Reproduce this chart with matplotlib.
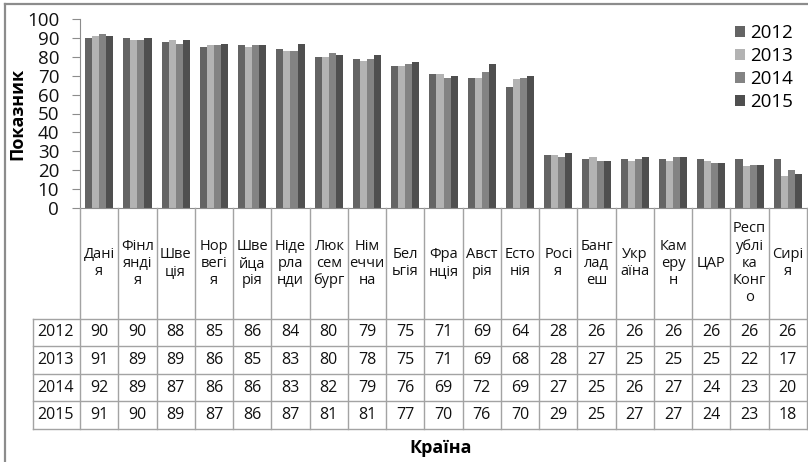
import matplotlib.pyplot as plt
import numpy as np

plt.rcParams['font.family'] = ['Open Sans', 'DejaVu Sans']

# Дані з діаграми
krainy = ["Дані\nя", "Фінл\nянді\nя", "Шве\nція", "Нор\nвегі\nя", "Шве\nйца\nрія",
          "Ніде\nрла\nнди", "Люк\nсем\nбург", "Нім\nеччи\nна", "Бел\nьгія", "Фра\nнція",
          "Авст\nрія", "Есто\nнія", "Росі\nя", "Банг\nлад\nеш", "Укр\nаїна",
          "Кам\nеру\nн", "ЦАР", "Респ\nублі\nка\nКонг\nо", "Сирі\nя"]
roky = ["2012", "2013", "2014", "2015"]
v2012 = [90, 90, 88, 85, 86, 84, 80, 79, 75, 71, 69, 64, 28, 26, 26, 26, 26, 26, 26]
v2013 = [91, 89, 89, 86, 85, 83, 80, 78, 75, 71, 69, 68, 28, 27, 25, 25, 25, 22, 17]
v2014 = [92, 89, 87, 86, 86, 83, 82, 79, 76, 69, 72, 69, 27, 25, 26, 27, 24, 23, 20]
v2015 = [91, 90, 89, 87, 86, 87, 81, 81, 77, 70, 76, 70, 29, 25, 27, 27, 24, 23, 18]
seriyi = [v2012, v2013, v2014, v2015]
kolory = ['#646464', '#b3b3b3', '#838383', '#4f4f4f']

W, H = 808, 462
fig = plt.figure(figsize=(W / 100, H / 100), dpi=100)

# Рамка (зліва і зверху)
fig.add_artist(plt.Line2D([5 / W, 5 / W], [0, 1 - 4 / H], color='#8c8c8c', lw=1.6))
fig.add_artist(plt.Line2D([5 / W, 1], [1 - 4 / H, 1 - 4 / H], color='#8c8c8c', lw=1.6))

# Основний графік
ax = fig.add_axes([80 / W, 1 - 208 / H, 727 / W, (208 - 19) / H])
n = len(krainy)
x = np.arange(n)
w = 0.185
for j, (vals, rik, kol) in enumerate(zip(seriyi, roky, kolory)):
    ax.bar(x + (j - 1.5) * w, vals, w, color=kol, label=rik)

ax.set_xlim(-0.5, n - 0.5)
ax.set_ylim(0, 100)
ax.set_yticks(range(0, 101, 10))
ax.tick_params(axis='y', labelsize=13.5, length=6, color='#8c8c8c', pad=9, labelcolor='#111111')
ax.set_xticks([])
for s in ['top', 'right']:
    ax.spines[s].set_visible(False)
ax.spines['left'].set_color('#8c8c8c')
ax.spines['bottom'].set_color('#8c8c8c')
ax.set_ylabel('Показник', fontsize=13, fontweight='bold')
ax.yaxis.set_label_coords(-54 / 727, 0.5)

ax.legend(loc='upper left', bbox_to_anchor=(735 / W, 1 - 24 / H), bbox_transform=fig.transFigure,
          frameon=False, fontsize=13.5, handlelength=0.55, handleheight=0.55, handletextpad=0.25,
          labelspacing=0.27, borderaxespad=0, borderpad=0)

# Таблиця під графіком
tab = fig.add_axes([80 / W, 1 - 429 / H, 727 / W, (429 - 208) / H])
tab.set_xlim(-0.5, n - 0.5)
tab.set_ylim(8, 0)
tab.axis('off')
col_px = 727 / n
lab_left = -0.5 - (80 - 33) / col_px
lc = '#a3a3a3'

for i in range(n + 1):
    tab.plot([i - 0.5, i - 0.5], [0, 8], color=lc, lw=1, clip_on=False)
for r in range(4, 9):
    tab.plot([lab_left, n - 0.5], [r, r], color=lc, lw=1, clip_on=False)
tab.plot([lab_left, lab_left], [4, 8], color=lc, lw=1, clip_on=False)

for i, k in enumerate(krainy):
    tab.text(i, 2, k, ha='center', va='center', multialignment='center',
             fontsize=10.5, linespacing=1.2, color='#111111')

for r, (rik, vals) in enumerate(zip(roky, seriyi)):
    tab.text(lab_left + 0.1, 4.5 + r, rik, ha='left', va='center', fontsize=11.5,
             color='#111111', clip_on=False)
    for i, v in enumerate(vals):
        tab.text(i, 4.5 + r, str(v), ha='center', va='center', fontsize=11.5, color='#111111')

fig.text(441 / W, 1 - 448 / H, 'Країна', ha='center', va='center', fontsize=13, fontweight='bold')

fig.savefig('out.png', dpi=100)
